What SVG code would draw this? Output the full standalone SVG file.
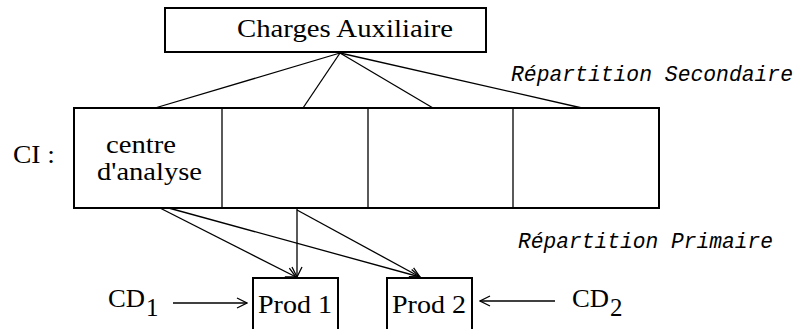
<svg xmlns="http://www.w3.org/2000/svg" width="801" height="329" viewBox="0 0 801 329">
<defs>
<marker id="ah" markerWidth="12" markerHeight="12" refX="11" refY="6" orient="auto" markerUnits="userSpaceOnUse">
<path d="M1,1 L11,6 L1,11" fill="none" stroke="#000" stroke-width="1.3"/>
</marker>
<style>
.box{fill:#fff;stroke:#000;stroke-width:2}
.t{font-family:"Liberation Serif",serif;font-size:25px;fill:#000}
.it{font-family:"Liberation Mono",monospace;font-style:italic;font-size:21.3px;fill:#000}
.ln{stroke:#000;stroke-width:1.3;fill:none}
</style>
</defs>
<rect width="801" height="329" fill="#fff"/>
<g id="connectors">
<line class="ln" x1="340" y1="53" x2="155" y2="108"/>
<line class="ln" x1="340" y1="53" x2="303" y2="108"/>
<line class="ln" x1="340" y1="53" x2="433" y2="108"/>
<line class="ln" x1="340" y1="53" x2="582" y2="108"/>
<line class="ln" x1="158" y1="207" x2="296" y2="277" marker-end="url(#ah)"/>
<line class="ln" x1="165" y1="207" x2="420" y2="277" marker-end="url(#ah)"/>
<line class="ln" x1="297" y1="208" x2="297" y2="277" marker-end="url(#ah)"/>
<line class="ln" x1="297" y1="210" x2="420" y2="277" marker-end="url(#ah)"/>
<line class="ln" x1="173" y1="303" x2="247" y2="303" marker-end="url(#ah)"/>
<line class="ln" x1="555" y1="301" x2="480" y2="301" marker-end="url(#ah)"/>
</g>
<g id="charges">
<rect class="box" x="165" y="8" width="321" height="44"/>
<text class="t" x="237" y="37" textLength="216" lengthAdjust="spacingAndGlyphs">Charges Auxiliaire</text>
</g>
<g id="ci-label">
<text class="t" x="13" y="163" textLength="42" lengthAdjust="spacingAndGlyphs">CI :</text>
</g>
<g id="ci-row">
<rect class="box" x="74" y="108" width="585" height="100"/>
<line class="ln" stroke-width="2" x1="222" y1="108" x2="222" y2="208"/>
<line class="ln" stroke-width="2" x1="368" y1="108" x2="368" y2="208"/>
<line class="ln" stroke-width="2" x1="513" y1="108" x2="513" y2="208"/>
</g>
<g id="centre">
<text class="t" x="106" y="153" textLength="70" lengthAdjust="spacingAndGlyphs">centre</text>
<text class="t" x="97" y="180" textLength="105" lengthAdjust="spacingAndGlyphs">d'analyse</text>
</g>
<g id="rep-sec">
<text class="it" x="511" y="81" textLength="282" lengthAdjust="spacingAndGlyphs">Répartition Secondaire</text>
</g>
<g id="rep-prim">
<text class="it" x="518" y="248" textLength="255" lengthAdjust="spacingAndGlyphs">Répartition Primaire</text>
</g>
<g id="prod1">
<rect class="box" x="253" y="278" width="85" height="60"/>
<text class="t" x="258" y="313" textLength="74" lengthAdjust="spacingAndGlyphs">Prod 1</text>
</g>
<g id="prod2">
<rect class="box" x="387" y="278" width="85" height="60"/>
<text class="t" x="392" y="313" textLength="74" lengthAdjust="spacingAndGlyphs">Prod 2</text>
</g>
<g id="cd1">
<text class="t" x="108" y="307" textLength="37" lengthAdjust="spacingAndGlyphs">CD</text>
<text class="t" x="146" y="316">1</text>
</g>
<g id="cd2">
<text class="t" x="572" y="307" textLength="37" lengthAdjust="spacingAndGlyphs">CD</text>
<text class="t" x="610" y="316">2</text>
</g>
</svg>
